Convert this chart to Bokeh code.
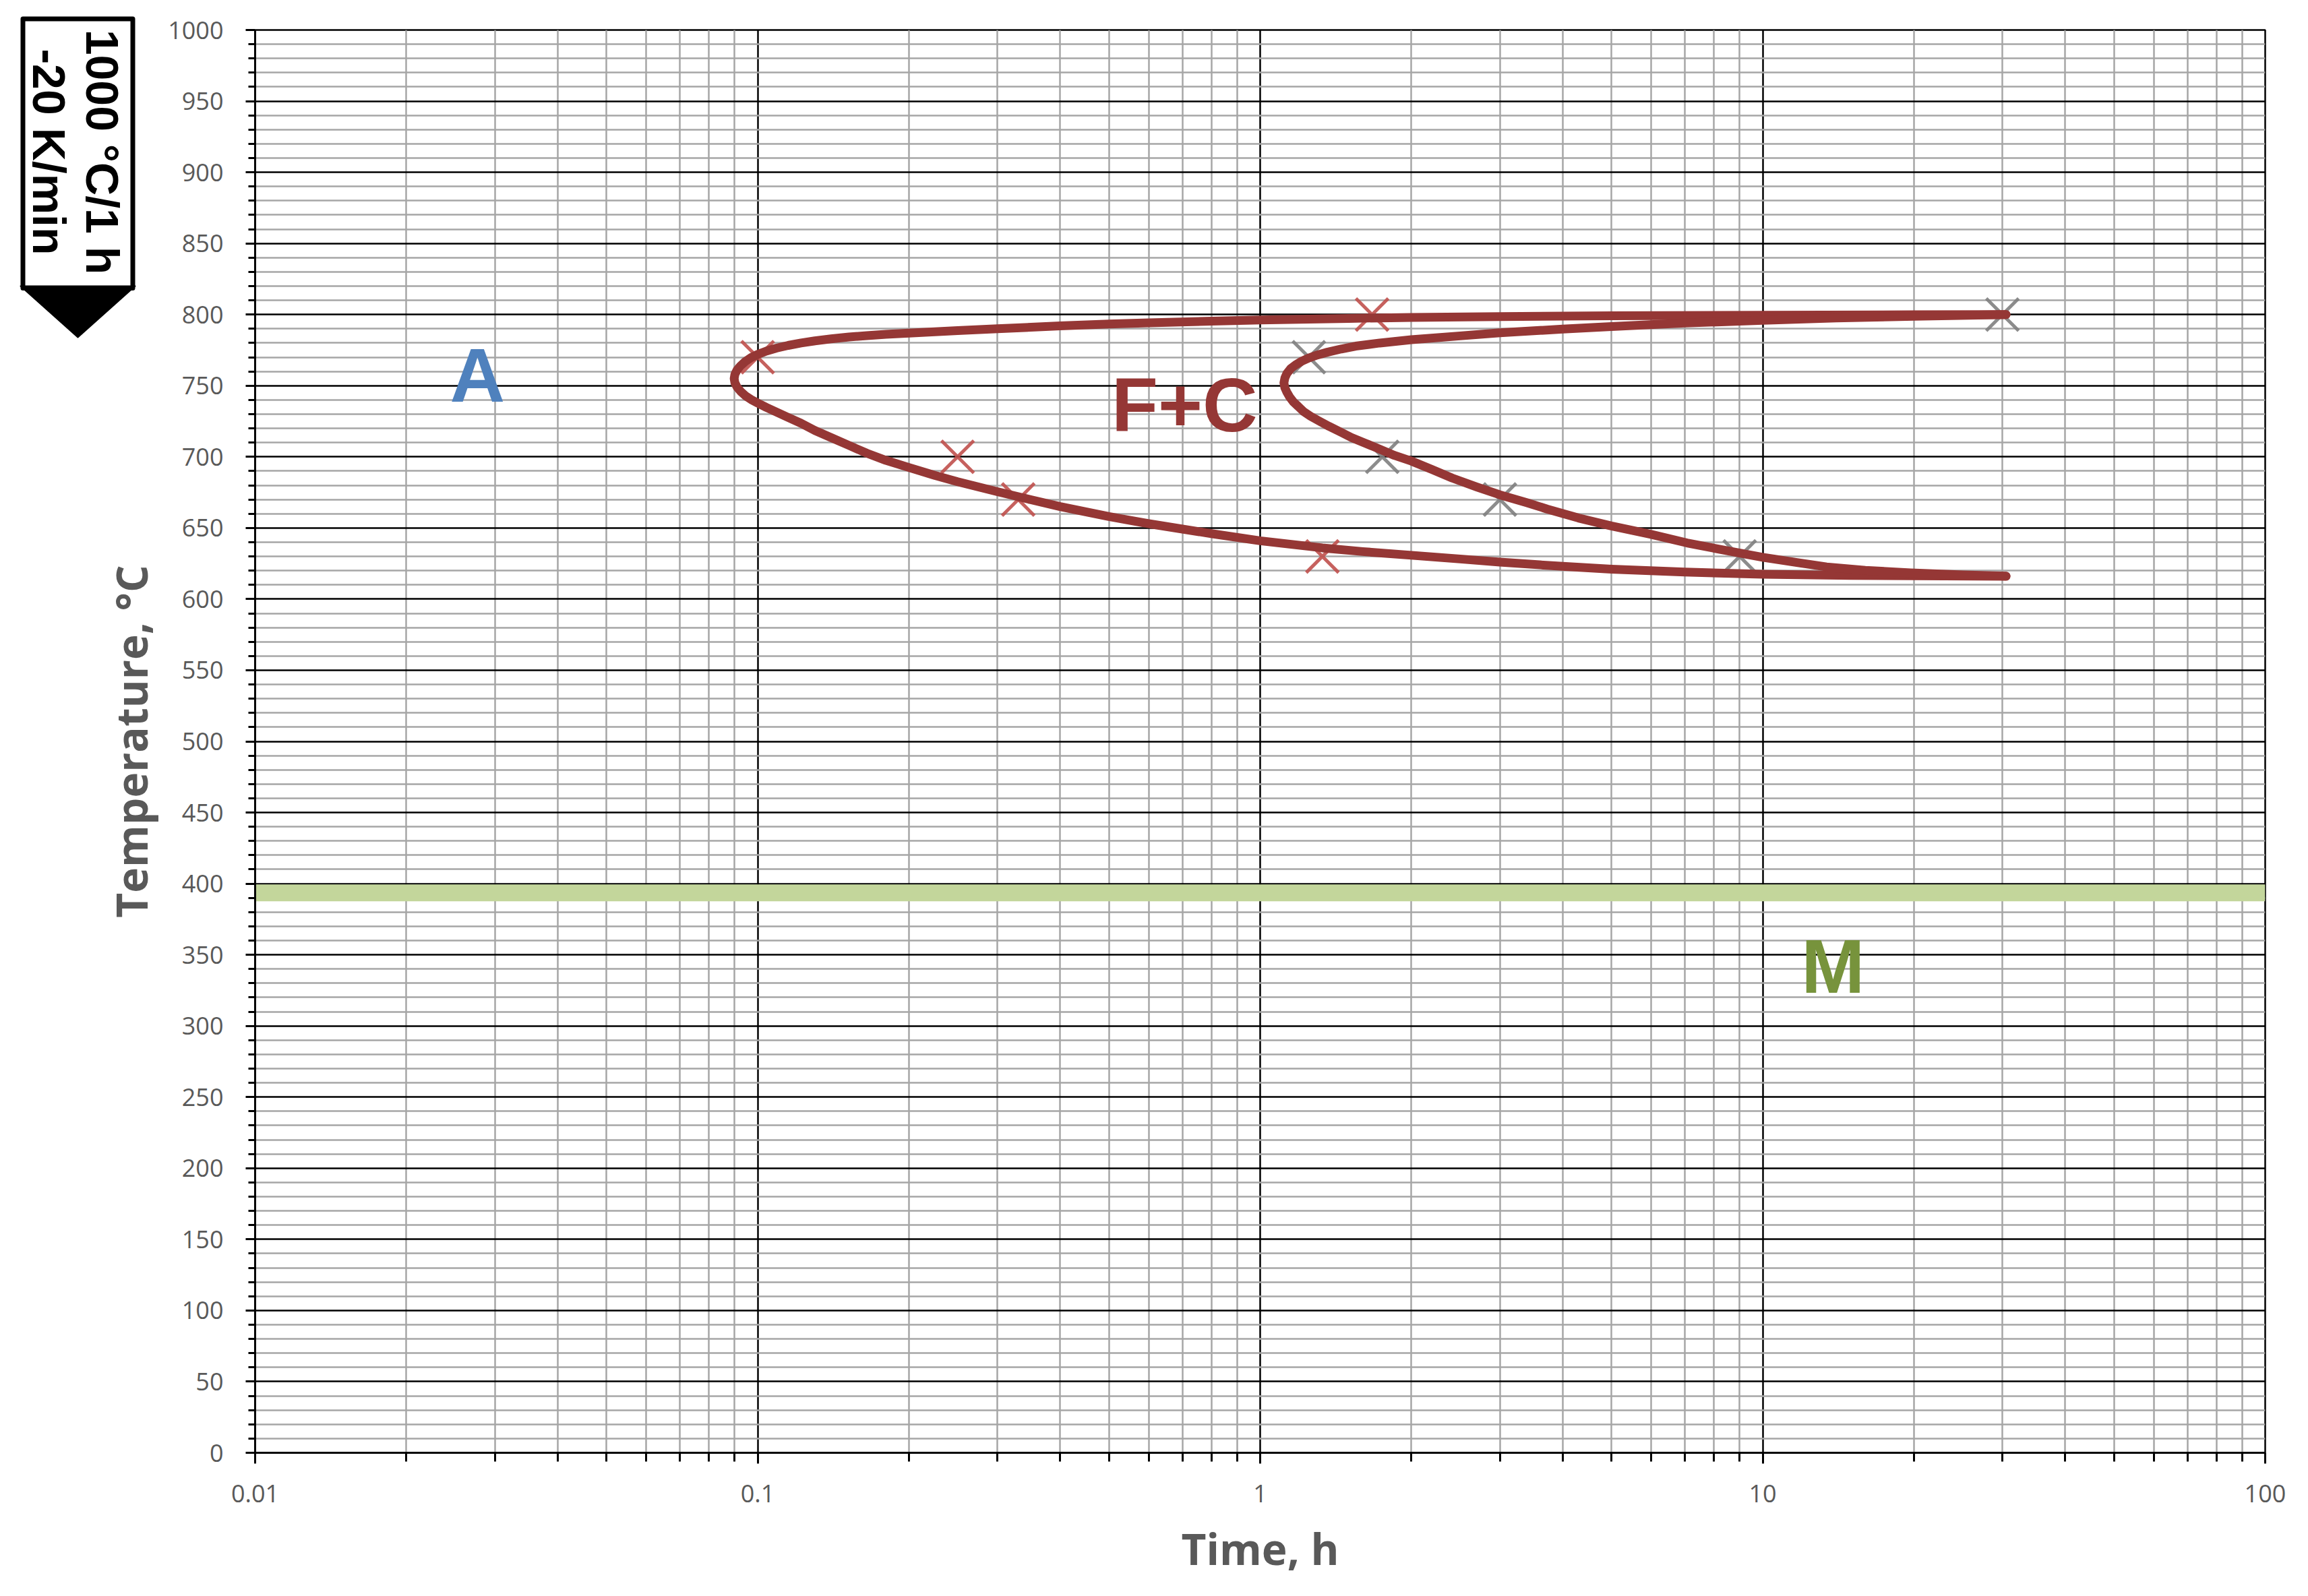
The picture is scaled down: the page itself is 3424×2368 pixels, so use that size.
import math
from bokeh.plotting import figure
from bokeh.layouts import row
from bokeh.models import Range1d, FixedTicker, CustomJSTickFormatter, Label
from bokeh.core.properties import value
from bokeh.embed import file_html
from bokeh.resources import INLINE

# ---------------- data ----------------
# start-of-transformation curve (outer C): upper end -> nose -> lower end
c1_time = [30.5, 20, 10, 5, 3, 2, 1.5, 1, 0.8, 0.6, 0.5, 0.4, 0.3, 0.25, 0.2, 0.18,
           0.165, 0.152, 0.14, 0.13, 0.122, 0.115, 0.109, 0.104, 0.1, 0.097, 0.0945,
           0.0925, 0.091, 0.0901,
           0.0898,
           0.0901, 0.091, 0.0925, 0.0945, 0.097, 0.1, 0.104, 0.109, 0.115, 0.122,
           0.13, 0.14, 0.152, 0.165, 0.18, 0.2, 0.225, 0.25, 0.3, 0.35, 0.4, 0.5,
           0.6, 0.8, 1, 1.33, 1.6, 2, 2.5, 3, 4, 5, 7, 10, 15, 20, 30.5]
c1_temp = [800, 799.8, 799.5, 799.1, 798.6, 798, 797.3, 796.2, 795.4, 794.2, 793.3,
           792, 790, 788.7, 787, 786.1, 785.2, 784.2, 782.9, 781.5, 780, 778.3, 776.4,
           774.3, 772, 769.7, 767, 764, 761, 758,
           755,
           752, 749, 746, 743, 740.3, 737.8, 734.8, 731.5, 727.7, 723.6,
           718.5, 713.5, 708, 702.5, 697.5, 692.5, 687, 682.5, 675.5, 669.8, 665, 658,
           653, 646, 641, 636, 633.4, 630.8, 628.2, 626, 623, 621, 619, 617.5, 616.7,
           616.4, 616]
# end-of-transformation curve (inner C)
c2_time = [30.5, 20, 14, 10, 7, 5, 4, 3, 2.5, 2, 1.73, 1.55, 1.45, 1.36, 1.3, 1.25,
           1.21, 1.175, 1.15, 1.13, 1.12,
           1.115,
           1.12, 1.13, 1.145, 1.165, 1.19, 1.22, 1.26, 1.31, 1.37, 1.45, 1.52, 1.62,
           1.73, 1.85, 2, 2.2, 2.41, 2.7, 3, 3.4, 3.73, 4.3, 5, 6, 7.07, 8.5, 10,
           11.7, 13.4, 16, 19.7, 25, 30.5]
c2_temp = [800, 798.8, 797.6, 796, 794, 791.6, 789.8, 787.2, 785, 782.3, 780, 777.8,
           775.8, 773.5, 771.6, 769.5, 767.2, 764.5, 762, 758.5, 755.5,
           752,
           748.5, 745.5, 742, 738.5, 735.5, 731.8, 728.5, 725.2, 721.5, 717.2, 713.5,
           709.5, 705.4, 701, 697, 691, 685.1, 678.8, 673.3, 667.7, 663.2, 657, 651.4,
           645.5, 639.5, 634, 629.4, 625.7, 622.6, 620.2, 618.4, 617, 616.2]
# measured points
red_x_time = [0.1, 0.25, 0.33, 1.33, 1.67]
red_x_temp = [770, 700, 670, 630, 800]
gray_x_time = [1.25, 1.75, 3.0, 9.0, 30.0]
gray_x_temp = [770, 700, 670, 630, 800]
# martensite start band
ms_time = [0.01, 100]
ms_temp = [393.5, 393.5]
# phase labels
phase_text = ["A", "F+C", "M"]
phase_time = [0.0277, 0.707, 13.8]
phase_temp = [757, 736.5, 341.6]
phase_color = ["#4F81BD", "#953735", "#77933C"]
# ticks
x_major = [0.01, 0.1, 1, 10, 100]
x_minor = [0.02, 0.03, 0.04, 0.05, 0.06, 0.07, 0.08, 0.09,
           0.2, 0.3, 0.4, 0.5, 0.6, 0.7, 0.8, 0.9,
           2, 3, 4, 5, 6, 7, 8, 9,
           20, 30, 40, 50, 60, 70, 80, 90]
y_major = list(range(0, 1001, 50))
y_minor = [v for v in range(0, 1001, 10) if v % 50]
box_lines = ["1000 °C/1 h", "-20 K/min"]
y_title = "Temperature, °C"
x_title = "Time, h"

# ---------------- layout constants (pixels) ----------------
W, H = 3416, 2360
SW = 240                      # left strip (heat-treatment box + y title)
FRAME_L, FRAME_R, FRAME_T, FRAME_B = 378, 3360, 44, 2155

# ---------------- main figure ----------------
p = figure(width=W - SW, height=H, x_axis_type="log",
           x_range=Range1d(0.01, 100), y_range=Range1d(0, 1000),
           output_backend="svg", toolbar_location=None, title=None,
           min_border_left=FRAME_L - SW, min_border_right=W - FRAME_R,
           min_border_top=FRAME_T, min_border_bottom=H - FRAME_B)
p.frame_align = False
p.background_fill_color = "white"
p.border_fill_color = "white"
p.outline_line_color = "black"
p.outline_line_width = 2.5

xt = FixedTicker(ticks=x_major, minor_ticks=x_minor)
yt = FixedTicker(ticks=y_major, minor_ticks=y_minor)
p.xaxis.ticker = xt
p.yaxis.ticker = yt
p.xgrid.ticker = xt
p.ygrid.ticker = yt
p.xaxis.formatter = CustomJSTickFormatter(code="return Number(tick.toPrecision(6)).toString();")

for g in (p.xgrid, p.ygrid):
    g.grid_line_color = "black"
    g.grid_line_width = 2.5
    g.minor_grid_line_color = "#A6A6A6"
    g.minor_grid_line_width = 2.5

for ax in (p.xaxis, p.yaxis):
    ax.axis_line_color = "black"
    ax.axis_line_width = 3
    ax.major_tick_line_color = "black"
    ax.major_tick_line_width = 3
    ax.minor_tick_line_color = "black"
    ax.minor_tick_line_width = 3
    ax.major_tick_in = 0
    ax.minor_tick_in = 0
    ax.major_label_text_font = "Open Sans"
    ax.major_label_text_font_size = "36px"
    ax.major_label_text_color = "#595959"
    ax.axis_label_text_font = "Open Sans"
    ax.axis_label_text_font_size = "64px"
    ax.axis_label_text_font_style = "bold"
    ax.axis_label_text_color = "#595959"

p.xaxis.major_tick_out = 16
p.xaxis.minor_tick_out = 13
p.xaxis.major_label_standoff = 31
p.xaxis.axis_label = x_title
p.xaxis.axis_label_standoff = 22

p.yaxis.major_tick_out = 14
p.yaxis.minor_tick_out = 10
p.yaxis.major_label_standoff = 33

# martensite band
p.line(ms_time, ms_temp, line_color="#C3D69B", line_width=25, line_cap="butt")

# measurement crosses
p.scatter(red_x_time, red_x_temp, marker="x", size=68, line_width=5,
          line_color="#C0504D", line_alpha=0.9)
p.scatter(gray_x_time, gray_x_temp, marker="x", size=68, line_width=5,
          line_color="#7F7F7F", line_alpha=0.9)

# transformation curves
for tx, ty in ((c1_time, c1_temp), (c2_time, c2_temp)):
    p.line(tx, ty, line_color="#953735", line_width=13,
           line_cap="round", line_join="round")

# phase labels
for t, x, y, c in zip(phase_text, phase_time, phase_temp, phase_color):
    p.add_layout(Label(x=x, y=y, text=t, text_align="center",
                       text_baseline="middle", text_font="Liberation Sans",
                       text_font_style="bold", text_font_size="113px",
                       text_color=c))

# ---------------- left strip: heat-treatment box and y-axis title ----------------
side = figure(width=SW, height=H, x_range=Range1d(0, SW), y_range=Range1d(H, 0),
              output_backend="svg", toolbar_location=None, title=None,
              x_axis_location=None, y_axis_location=None, min_border=0)
side.frame_align = False
side.grid.visible = False
side.outline_line_color = None
side.background_fill_color = "white"
side.border_fill_color = "white"

rect_x = [33.5, 196.5, 196.5, 33.5]
rect_y = [27.5, 27.5, 427, 427]
side.patch(rect_x, rect_y, fill_color="white", line_color="black",
           line_width=7, line_join="round")
tri_x = [30, 200, 115]
tri_y = [424, 424, 500]
side.patch(tri_x, tri_y, fill_color="black", line_color="black",
           line_width=2, line_join="round")
side.text(x=[151, 72.5], y=[225, 225], text=box_lines, angle=-math.pi / 2,
          text_align="center", text_baseline="middle",
          text_font=value("Liberation Sans"), text_font_style="bold",
          text_font_size="68px", text_color="black")
side.text(x=[194], y=[(FRAME_T + FRAME_B) / 2], text=[y_title], angle=math.pi / 2,
          text_align="center", text_baseline="middle",
          text_font=value("Open Sans"), text_font_style="bold",
          text_font_size="64px", text_color="#595959")

layout = row(side, p, spacing=0)
open("out.html", "w").write(file_html(layout, INLINE))
